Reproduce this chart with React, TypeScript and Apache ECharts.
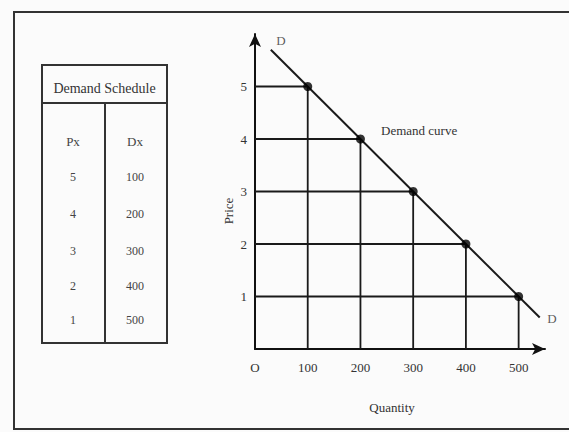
import React, { useEffect, useRef } from "react";
import * as echarts from "echarts";

const prices = [5, 4, 3, 2, 1];
const quantities = [100, 200, 300, 400, 500];
const curveQuantity = [30, 540];
const curvePrice = [5.7, 0.6];
const curveLabels = ["D", "D"];
const xTicks = [0, 100, 200, 300, 400, 500];
const yTicks = [1, 2, 3, 4, 5];
const tableTitle = "Demand Schedule";
const tableHeads = ["Px", "Dx"];

const FONT = "Liberation Serif";
const INK = "#1a1a1a";

export default function App() {
  const ref = useRef<HTMLDivElement>(null);
  useEffect(() => {
    if (!ref.current) return;
    const chart = echarts.init(ref.current, null, { renderer: "svg" });

    const dropSeries = prices.map((p, i) => ({
      type: "line",
      data: [
        [0, p],
        [quantities[i], p],
        [quantities[i], 0],
      ],
      symbol: "none",
      lineStyle: { color: INK, width: 1.8 },
      z: 2,
    }));

    const tblX = 42, tblR = 167, tblTop = 65, tblHead = 103, tblBot = 343, divX = 105;
    const rowY = [177, 214, 251, 286, 320];
    const tableGraphic: any[] = [
      { type: "rect", shape: { x: tblX, y: tblTop, width: tblR - tblX, height: tblBot - tblTop }, style: { fill: "none", stroke: "#333", lineWidth: 2 } },
      { type: "line", shape: { x1: tblX, y1: tblHead, x2: tblR, y2: tblHead }, style: { stroke: "#333", lineWidth: 2 } },
      { type: "line", shape: { x1: divX, y1: tblHead, x2: divX, y2: tblBot }, style: { stroke: "#333", lineWidth: 2 } },
      { type: "text", x: (tblX + tblR) / 2, y: 88, style: { text: tableTitle, font: `14px "${FONT}"`, fill: "#333", textAlign: "center", textVerticalAlign: "middle" } },
      { type: "text", x: 73, y: 141, style: { text: tableHeads[0], font: `13px "${FONT}"`, fill: "#444", textAlign: "center", textVerticalAlign: "middle" } },
      { type: "text", x: 135, y: 141, style: { text: tableHeads[1], font: `13px "${FONT}"`, fill: "#444", textAlign: "center", textVerticalAlign: "middle" } },
    ];
    prices.forEach((p, i) => {
      tableGraphic.push({ type: "text", x: 73, y: rowY[i], style: { text: String(p), font: `12px "${FONT}"`, fill: "#444", textAlign: "center", textVerticalAlign: "middle" } });
      tableGraphic.push({ type: "text", x: 135, y: rowY[i], style: { text: String(quantities[i]), font: `12px "${FONT}"`, fill: "#444", textAlign: "center", textVerticalAlign: "middle" } });
    });

    chart.setOption({
      animation: false,
      backgroundColor: "#fbfbfb",
      grid: { left: 255, top: 34, width: 290, height: 315 },
      xAxis: {
        type: "value",
        min: 0,
        max: 550,
        interval: 50,
        axisLine: { show: true, lineStyle: { color: "#111", width: 2 }, symbol: ["none", "arrow"], symbolSize: [9, 13] },
        axisTick: { show: false },
        splitLine: { show: false },
        axisLabel: {
          margin: 12,
          color: "#333",
          fontFamily: FONT,
          fontSize: 13,
          formatter: (v: number) => (v === 0 ? "O" : xTicks.includes(v) ? String(v) : ""),
        },
      },
      yAxis: {
        type: "value",
        min: 0,
        max: 6,
        interval: 1,
        axisLine: { show: true, lineStyle: { color: "#111", width: 2 }, symbol: ["none", "arrow"], symbolSize: [9, 13] },
        axisTick: { show: false },
        splitLine: { show: false },
        axisLabel: {
          margin: 8,
          color: "#333",
          fontFamily: FONT,
          fontSize: 13,
          formatter: (v: number) => (yTicks.includes(v) ? String(v) : ""),
        },
      },
      series: [
        ...dropSeries,
        {
          type: "line",
          data: curveQuantity.map((q, i) => [q, curvePrice[i]]),
          symbol: "none",
          lineStyle: { color: INK, width: 2 },
          z: 3,
        },
        {
          type: "scatter",
          data: [
            { value: [curveQuantity[0], curvePrice[0]], label: { position: "right", offset: [0, -9] } },
            { value: [curveQuantity[1], curvePrice[1]], label: { position: "right", offset: [2, 1] } },
          ],
          symbolSize: 1,
          itemStyle: { color: "rgba(0,0,0,0)" },
          label: {
            show: true,
            formatter: (p: any) => curveLabels[p.dataIndex],
            color: "#333",
            fontFamily: FONT,
            fontSize: 13,
          },
          z: 3,
        },
        {
          type: "scatter",
          data: quantities.map((q, i) => [q, prices[i]]),
          symbolSize: 9,
          itemStyle: { color: "#000" },
          z: 4,
        },
      ],
      graphic: [
        { type: "rect", shape: { x: 14, y: 12, width: 570, height: 417 }, style: { fill: "none", stroke: "#333", lineWidth: 2 } },
        ...tableGraphic,
        { type: "text", x: 381, y: 130, style: { text: "Demand curve", font: `13px "${FONT}"`, fill: "#333", textVerticalAlign: "middle" } },
        { type: "text", x: 228, y: 211, rotation: Math.PI / 2, style: { text: "Price", font: `13px "${FONT}"`, fill: "#333", textAlign: "center", textVerticalAlign: "middle" } },
        { type: "text", x: 392, y: 407, style: { text: "Quantity", font: `13px "${FONT}"`, fill: "#333", textAlign: "center", textVerticalAlign: "middle" } },
      ],
    });
    return () => chart.dispose();
  }, []);
  return <div ref={ref} style={{ position: "fixed", left: 0, top: 0, width: 569, height: 432 }} />;
}
